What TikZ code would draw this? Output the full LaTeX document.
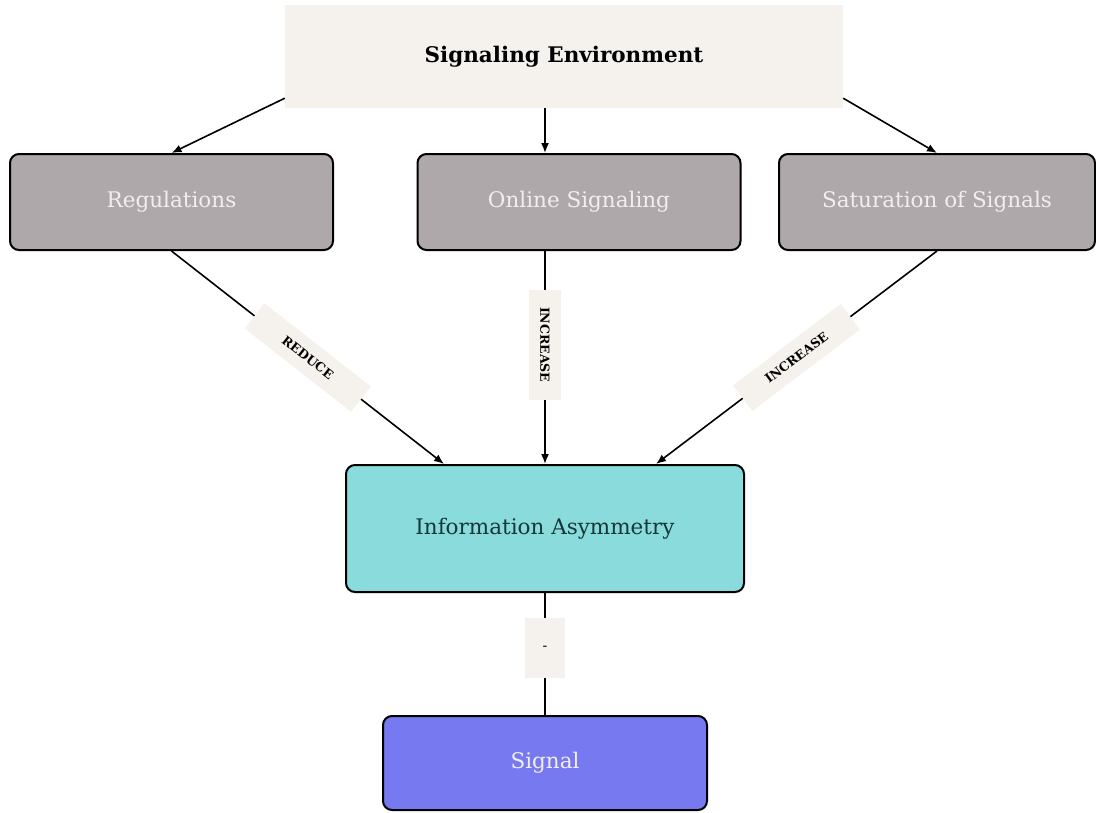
\documentclass[tikz,border=0pt]{standalone}
\usepackage{xcolor}
\usepackage{fontspec}
\setmainfont{DejaVu Serif}
\usepackage{tikz}
\usetikzlibrary{arrows,arrows.meta,positioning}

\definecolor{tagbeige}{HTML}{F5F1EC}
\definecolor{boxgray}{HTML}{AEA8AB}
\definecolor{infoteal}{HTML}{8ADBDB}
\definecolor{sigblue}{HTML}{7679F0}
\definecolor{lighttext}{HTML}{F2EEF0}
\definecolor{darktext}{HTML}{163838}

\begin{document}
\begin{tikzpicture}[x=1pt,y=-1pt,
	box/.style={draw=black,line width=2pt,rounded corners=9pt,minimum height=96pt,font=\fontsize{21.5}{25}\selectfont},
	tag/.style={fill=tagbeige,font=\bfseries\fontsize{12.5}{14}\selectfont,minimum width=118pt,minimum height=32pt,inner sep=2pt},
	link/.style={-{Latex[length=10pt,width=8pt]},line width=1.6pt}]
	\useasboundingbox (0,0) rectangle (1096,812);
	% top and middle row
	\node[fill=tagbeige,minimum width=558pt,minimum height=103pt,font=\bfseries\fontsize{21.5}{25}\selectfont] (env) at (564,56.5) {Signaling Environment};
	\node[box,fill=boxgray,text=lighttext,minimum width=323pt] (reg) at (171.5,202) {Regulations};
	\node[box,fill=boxgray,text=lighttext,minimum width=323pt] (online) at (579,202) {Online Signaling};
	\node[box,fill=boxgray,text=lighttext,minimum width=316pt] (sat) at (937,202) {Saturation of Signals};
	% lower boxes
	\node[box,fill=infoteal,text=darktext,minimum width=398pt,minimum height=127pt] (info) at (545,528.5) {Information Asymmetry};
	\node[box,fill=sigblue,text=lighttext,minimum width=324pt,minimum height=94pt] (sig) at (545,763) {Signal};

	\draw[link] ([yshift=10pt]env.south west) -- (reg.north);
	\draw[link] (env.south -| info.north) -- (online.north -| info.north);
	\draw[link] ([yshift=10pt]env.south east) -- (sat.north);

	\draw[link] (reg.south) -- node[tag,sloped,pos=0.5,minimum width=135pt] {REDUCE} ([xshift=99pt]info.north west);
	\draw[link] (online.south -| info.north) -- node[tag,rotate=-90,pos=0.44,minimum width=110pt] {INCREASE} (info.north);
	\draw[link] (sat.south) -- node[tag,sloped,pos=0.5,minimum width=135pt] {INCREASE} ([xshift=-89pt]info.north east);
	\draw[line width=1.6pt] (info.south) -- node[tag,pos=0.45,minimum width=40pt,minimum height=60pt,font=\fontsize{14}{16}\selectfont] {-} (sig.north);
\end{tikzpicture}
\end{document}
